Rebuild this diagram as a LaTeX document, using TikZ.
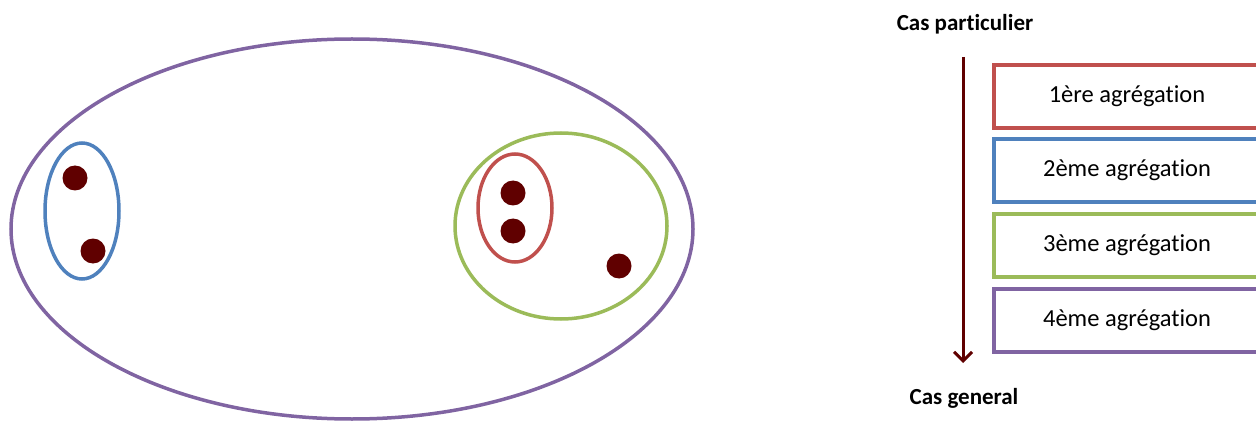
\documentclass[tikz,border=0pt]{standalone}
\usepackage{fontspec}
\setmainfont{Carlito}[Ligatures=CommonOff]
\usetikzlibrary{arrows.meta}
\definecolor{cred}{HTML}{C0504D}
\definecolor{cblue}{HTML}{4F81BD}
\definecolor{cgreen}{HTML}{9BBB59}
\definecolor{cpurple}{HTML}{8064A2}
\definecolor{cdot}{HTML}{600000}
\begin{document}
\begin{tikzpicture}[x=1pt,y=1pt,
  ring/.style={line width=3.5pt},
  dot/.style={fill=cdot,draw=none},
  aggbox/.style={draw,line width=4pt,minimum width=266pt,minimum height=63pt,inner sep=0pt,font=\fontsize{24.5}{28}\selectfont},
  caslabel/.style={font=\bfseries\fontsize{23}{26}\selectfont,inner sep=0pt}]
\useasboundingbox (0,0) rectangle (1256,421);
\clip (0,0) rectangle (1256,421);
% left diagram
\draw[ring,cpurple] (352,192) ellipse [x radius=341, y radius=190];
\draw[ring,cblue] (82,210) ellipse [x radius=37, y radius=68];
\draw[ring,cgreen] (561,195) ellipse [x radius=106, y radius=93];
\draw[ring,cred] (515,213) ellipse [x radius=37, y radius=54];
\fill[dot] (75,243) circle (12.5);
\fill[dot] (93,170) circle (12.5);
\fill[dot] (513,228) circle (12.5);
\fill[dot] (513,190) circle (12.5);
\fill[dot] (619,155) circle (12.5);
% right legend
\node[caslabel] (top) at (965,397) {Cas particulier};
\node[caslabel] (bot) at (964,23) {Cas general};
\coordinate (a1) at (963,364);
\coordinate (a2) at (963,58);
\draw[cdot,line width=3pt,-{Straight Barb[length=9pt,width=18pt,line width=3pt]}] (a1) -- (a2);
\node[aggbox,draw=cred] (b1) at (1127,324.5) {1ère agrégation};
\node[aggbox,draw=cblue] (b2) at (1127,250.5) {2ème agrégation};
\node[aggbox,draw=cgreen] (b3) at (1127,175.5) {3ème agrégation};
\node[aggbox,draw=cpurple] (b4) at (1127,101) {4ème agrégation};
\end{tikzpicture}
\end{document}
